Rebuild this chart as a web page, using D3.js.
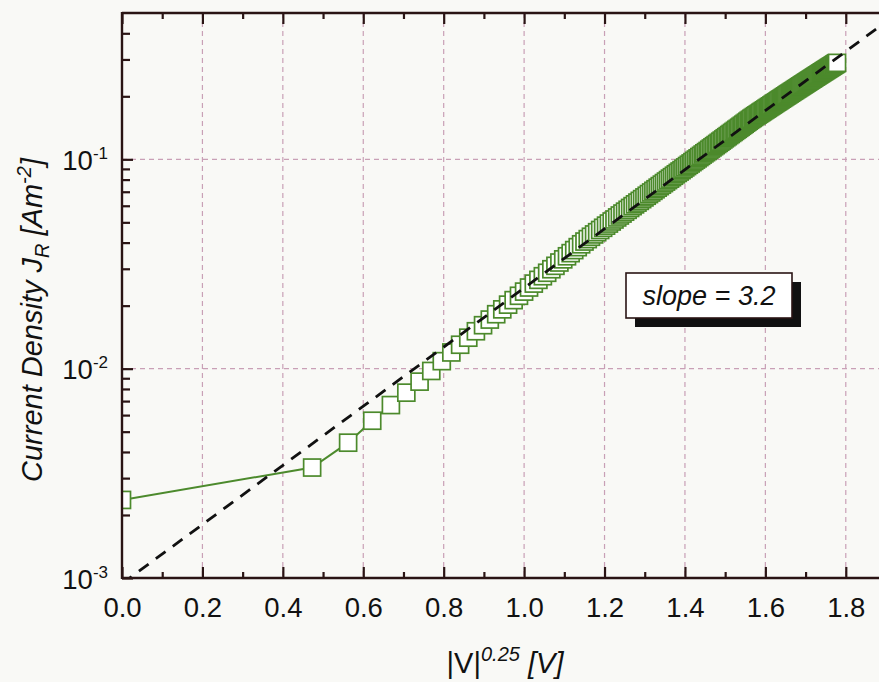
<!DOCTYPE html>
<html><head><meta charset="utf-8">
<script src="https://cdn.jsdelivr.net/npm/d3@7"></script>
<style>
html,body{margin:0;padding:0;background:#f9f9f6;}
svg{display:block;font-family:"Liberation Sans",Arial,sans-serif;}
</style></head><body>
<svg id="chart" width="879" height="682"></svg>
<script>
// ---- data ----
// applied voltage |V| in volts (x axis shows |V|^0.25)
const voltage = [
0,0.05,0.1,0.15,0.2,0.25,0.3,0.35,0.4,0.45,0.5,0.55,0.6,0.65,0.7,0.75,0.8,0.85,0.9,0.95,
1,1.05,1.1,1.15,1.2,1.25,1.3,1.35,1.4,1.45,1.5,1.55,1.6,1.65,1.7,1.75,1.8,1.85,1.9,1.95,
2,2.05,2.1,2.15,2.2,2.25,2.3,2.35,2.4,2.45,2.5,2.55,2.6,2.65,2.7,2.75,2.8,2.85,2.9,2.95,
3,3.05,3.1,3.15,3.2,3.25,3.3,3.35,3.4,3.45,3.5,3.55,3.6,3.65,3.7,3.75,3.8,3.85,3.9,3.95,
4,4.05,4.1,4.15,4.2,4.25,4.3,4.35,4.4,4.45,4.5,4.55,4.6,4.65,4.7,4.75,4.8,4.85,4.9,4.95,
5,5.05,5.1,5.15,5.2,5.25,5.3,5.35,5.4,5.45,5.5,5.55,5.6,5.65,5.7,5.75,5.8,5.85,5.9,5.95,
6,6.05,6.1,6.15,6.2,6.25,6.3,6.35,6.4,6.45,6.5,6.55,6.6,6.65,6.7,6.75,6.8,6.85,6.9,6.95,
7,7.05,7.1,7.15,7.2,7.25,7.3,7.35,7.4,7.45,7.5,7.55,7.6,7.65,7.7,7.75,7.8,7.85,7.9,7.95,
8,8.05,8.1,8.15,8.2,8.25,8.3,8.35,8.4,8.45,8.5,8.55,8.6,8.65,8.7,8.75,8.8,8.85,8.9,8.95,
9,9.05,9.1,9.15,9.2,9.25,9.3,9.35,9.4,9.45,9.5,9.55,9.6,9.65,9.7,9.75,9.8,9.85,9.9,9.95,
10];
// current density J_R in A m^-2
const currentDensity = [
0.00236,0.00337,0.00443,0.00564,0.00670,0.00768,0.00867,0.00975,0.01086,0.01195,
0.01301,0.01406,0.01509,0.01613,0.01716,0.01820,0.01920,0.02022,0.02125,0.02229,
0.02334,0.02441,0.02549,0.02656,0.02764,0.02871,0.02985,0.03099,0.03214,0.03328,
0.03442,0.03563,0.03684,0.03806,0.03927,0.04048,0.04158,0.04267,0.04377,0.04486,
0.04596,0.04709,0.04822,0.04934,0.05047,0.05160,0.05276,0.05391,0.05507,0.05622,
0.05738,0.05857,0.05976,0.06094,0.06213,0.06332,0.06454,0.06577,0.06699,0.06822,
0.06944,0.07070,0.07195,0.07321,0.07446,0.07572,0.07701,0.07830,0.07958,0.08087,
0.08216,0.08348,0.08481,0.08613,0.08746,0.08878,0.09014,0.09149,0.09285,0.09420,
0.09556,0.09695,0.09834,0.09974,0.1011,0.1025,0.1039,0.1054,0.1068,0.1082,
0.1096,0.1111,0.1126,0.1140,0.1155,0.1169,0.1184,0.1199,0.1214,0.1229,
0.1244,0.1260,0.1275,0.1290,0.1306,0.1321,0.1337,0.1352,0.1368,0.1384,
0.1399,0.1415,0.1431,0.1447,0.1463,0.1479,0.1496,0.1512,0.1529,0.1545,
0.1561,0.1576,0.1592,0.1607,0.1622,0.1637,0.1652,0.1668,0.1683,0.1698,
0.1714,0.1729,0.1745,0.1760,0.1776,0.1791,0.1807,0.1823,0.1839,0.1854,
0.1870,0.1886,0.1902,0.1918,0.1934,0.1950,0.1966,0.1982,0.1998,0.2015,
0.2031,0.2047,0.2063,0.2080,0.2096,0.2112,0.2129,0.2145,0.2162,0.2178,
0.2195,0.2212,0.2228,0.2245,0.2262,0.2278,0.2295,0.2312,0.2329,0.2346,
0.2363,0.2380,0.2397,0.2414,0.2431,0.2448,0.2466,0.2483,0.2500,0.2517,
0.2535,0.2552,0.2570,0.2587,0.2604,0.2622,0.2639,0.2657,0.2675,0.2692,
0.2710,0.2728,0.2746,0.2764,0.2781,0.2799,0.2817,0.2835,0.2853,0.2871,
0.2889];
// fitted line J = A exp(3.2 |V|^0.25): end points
const fitVoltage = [0, 13];
const fitCurrent = [0.00094, 0.452];
// axis ticks (x axis values are |V|^0.25)
const xTickValues = [0, 0.2, 0.4, 0.6, 0.8, 1.0, 1.2, 1.4, 1.6, 1.8];
const xTickLabels = ["0.0","0.2","0.4","0.6","0.8","1.0","1.2","1.4","1.6","1.8"];
const xMinorValues = [0.1, 0.3, 0.5, 0.7, 0.9, 1.1, 1.3, 1.5, 1.7];
const yTickValues = [1e-3, 1e-2, 1e-1];
const yTickExponents = ["-3", "-2", "-1"];
const yMinorValues = [2e-3,3e-3,4e-3,5e-3,6e-3,7e-3,8e-3,9e-3,2e-2,3e-2,4e-2,5e-2,6e-2,7e-2,8e-2,9e-2,2e-1,3e-1,4e-1];
const slopeText = "slope = 3.2";

// ---- layout ----
const L = 122, T = 13, R = 886, B = 578;
const axisColor = "#2a1414", green = "#4c8a2c", gridColor = "#c9a0b6";
const svg = d3.select("#chart");

const x = d3.scalePow().exponent(0.25).domain([0, Math.pow(1.9, 4)]).range([L, R]);
const y = d3.scaleLog().domain([1e-3, 0.5]).range([B, T]);
const xv = t => Math.pow(t, 4); // |V|^0.25 value -> voltage

svg.append("rect").attr("width", 879).attr("height", 682).attr("fill", "#f9f9f6");

svg.append("defs").append("clipPath").attr("id", "plotclip")
  .append("rect").attr("x", L).attr("y", T).attr("width", R - L).attr("height", B - T);

// grid
const grid = svg.append("g").attr("stroke", gridColor).attr("stroke-width", 1.2).attr("stroke-dasharray", "5,4");
grid.selectAll("line.vx").data(xTickValues.slice(1)).join("line")
  .attr("x1", d => x(xv(d))).attr("x2", d => x(xv(d))).attr("y1", T).attr("y2", B);
grid.selectAll("line.hy").data(yTickValues.slice(1)).join("line")
  .attr("x1", L).attr("x2", R).attr("y1", d => y(d)).attr("y2", d => y(d));

// data
const pts = voltage.map((v, i) => ({v, j: currentDensity[i]}));
const plot = svg.append("g").attr("clip-path", "url(#plotclip)");
plot.append("path").datum(pts)
  .attr("d", d3.line().x(d => x(d.v)).y(d => y(d.j)))
  .attr("fill", "none").attr("stroke", green).attr("stroke-width", 2);
const S = 17;
plot.selectAll("rect.pt").data(pts).join("rect")
  .attr("x", d => x(d.v) - S / 2).attr("y", d => y(d.j) - S / 2)
  .attr("width", S).attr("height", S)
  .attr("fill", "#ffffff").attr("stroke", green).attr("stroke-width", 1.7);

// fit line
const fit = fitVoltage.map((v, i) => ({v, j: fitCurrent[i]}));
plot.append("path").datum(fit)
  .attr("d", d3.line().x(d => x(d.v)).y(d => y(d.j)))
  .attr("fill", "none").attr("stroke", "#111").attr("stroke-width", 2.8)
  .attr("stroke-dasharray", "12,9");

// axes
function styleAxis(g) {
  g.select(".domain").remove();
  g.selectAll(".tick line").attr("stroke", axisColor).attr("stroke-width", 2.2);
  g.selectAll(".tick text").attr("fill", "#111").attr("font-size", 27.5);
}
const xMajor = d3.axisBottom(x).tickValues(xTickValues.map(xv))
  .tickFormat((d, i) => xTickLabels[i]).tickSize(-11).tickPadding(19);
svg.append("g").attr("transform", `translate(0,${B})`).call(xMajor).call(styleAxis);
svg.append("g").attr("transform", `translate(0,${B})`)
  .call(d3.axisBottom(x).tickValues(xMinorValues.map(xv)).tickFormat("").tickSize(-6)).call(styleAxis);
svg.append("g").attr("transform", `translate(0,${T})`)
  .call(d3.axisTop(x).tickValues(xTickValues.map(xv)).tickFormat("").tickSize(-11)).call(styleAxis);
svg.append("g").attr("transform", `translate(0,${T})`)
  .call(d3.axisTop(x).tickValues(xMinorValues.map(xv)).tickFormat("").tickSize(-6)).call(styleAxis);

const yAx = svg.append("g").attr("transform", `translate(${L},0)`)
  .call(d3.axisLeft(y).tickValues(yTickValues).tickFormat("").tickSize(-11)).call(styleAxis);
svg.append("g").attr("transform", `translate(${L},0)`)
  .call(d3.axisLeft(y).tickValues(yMinorValues).tickFormat("").tickSize(-8)).call(styleAxis);
yAx.selectAll(".tick").each(function(d, i) {
  const t = d3.select(this).select("text")
    .attr("x", -14).attr("dy", null).attr("y", 10).attr("text-anchor", "end");
  t.text(null);
  t.append("tspan").text("10");
  t.append("tspan").attr("font-size", 17).attr("dy", -11).text(yTickExponents[i]);
});

// frame
const frame = svg.append("g").attr("stroke", axisColor).attr("stroke-width", 2.4).attr("fill", "none");
frame.append("line").attr("x1", L).attr("x2", L).attr("y1", T - 1).attr("y2", B + 1);
frame.append("line").attr("x1", L).attr("x2", R).attr("y1", B).attr("y2", B);
frame.append("line").attr("x1", L).attr("x2", R).attr("y1", T).attr("y2", T);
frame.append("line").attr("x1", R).attr("x2", R).attr("y1", T).attr("y2", B);

// slope annotation
const box = svg.append("g");
box.append("rect").attr("x", 635).attr("y", 282).attr("width", 166).attr("height", 45).attr("fill", "#111");
box.append("rect").attr("x", 626).attr("y", 273).attr("width", 166).attr("height", 45)
  .attr("fill", "#ffffff").attr("stroke", "#2a1414").attr("stroke-width", 1.6);
box.append("text").attr("x", 709).attr("y", 305).attr("text-anchor", "middle")
  .attr("font-size", 27).attr("font-style", "italic").attr("fill", "#111").text(slopeText);

// axis titles
const xt = svg.append("text").attr("x", 505).attr("y", 673).attr("text-anchor", "middle")
  .attr("font-size", 29).attr("fill", "#111");
xt.append("tspan").text("|V|");
xt.append("tspan").attr("font-size", 20).attr("font-style", "italic").attr("dy", -12).text("0.25");
xt.append("tspan").attr("font-style", "italic").attr("dy", 12).text(" [V]");

const yt = svg.append("text").attr("transform", "translate(42,320) rotate(-90)")
  .attr("text-anchor", "middle").attr("font-size", 29).attr("font-style", "italic").attr("fill", "#111");
yt.append("tspan").text("Current Density J");
yt.append("tspan").attr("font-size", 20).attr("dy", 7).text("R");
yt.append("tspan").attr("dy", -7).text("  [Am");
yt.append("tspan").attr("font-size", 20).attr("dy", -11).text("-2");
yt.append("tspan").attr("dy", 11).text("]");
</script>
</body></html>
